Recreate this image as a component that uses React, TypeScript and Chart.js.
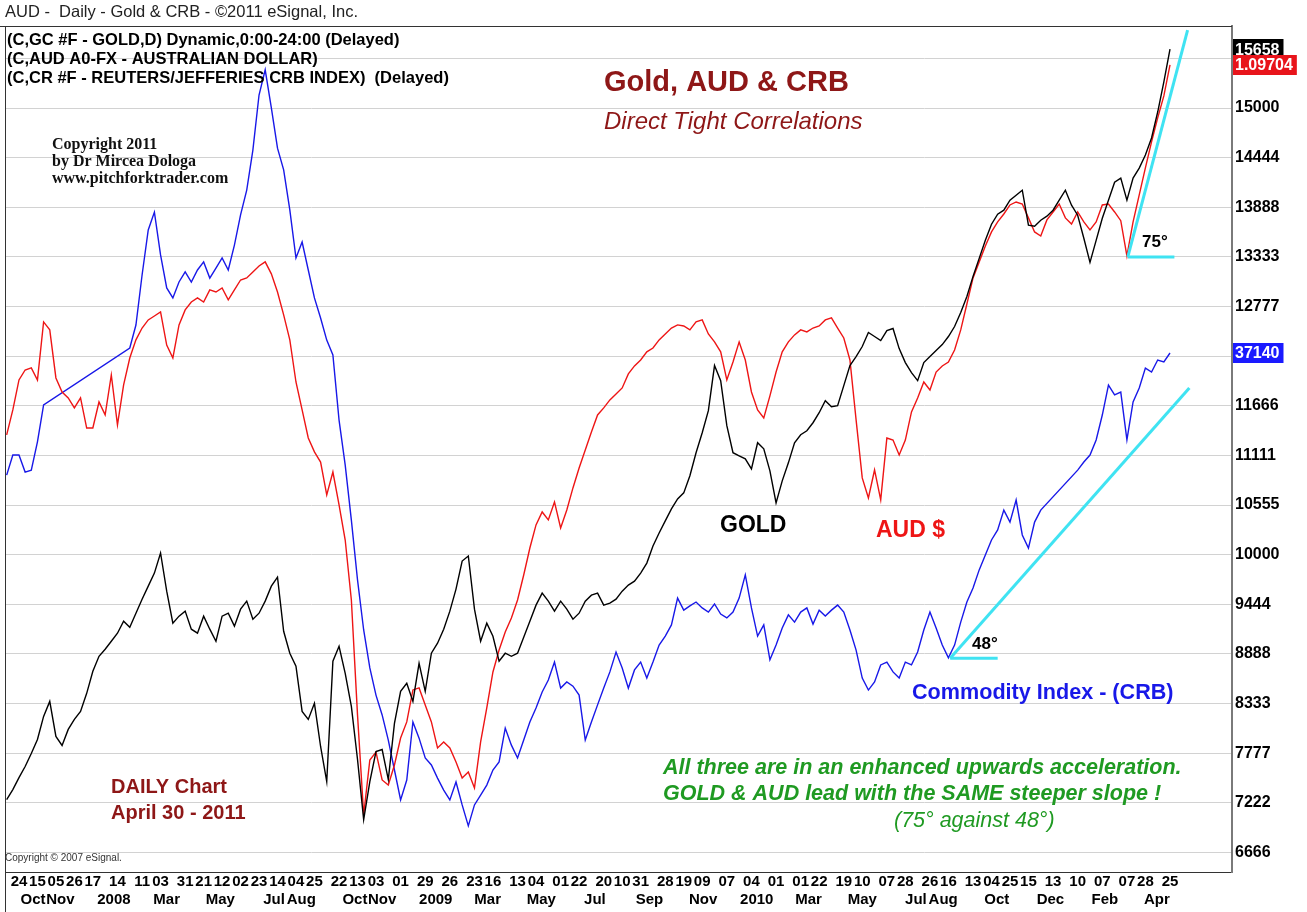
import React, { useEffect, useRef } from 'react';
import { Chart, registerables } from 'chart.js';

Chart.register(...registerables);

const SANS = "'Liberation Sans', Arial, Helvetica, sans-serif";
const SERIF = "'Liberation Serif', 'Times New Roman', serif";

// Weekly readings, first week = Monday 2007-09-10, one value every 7 days
const startDate = '2007-09-10';

// Gold (eSignal price x10)
const goldValues = [
  7258, 7371, 7505, 7629, 7775, 7932, 8190, 8358, 7965, 7864,
  8044, 8156, 8246, 8448, 8695, 8863, 8941, 9031, 9121, 9256,
  9188, 9345, 9502, 9648, 9794, 10019, 9592, 9233, 9312, 9368,
  9166, 9121, 9312, 9166, 9031, 9312, 9345, 9200, 9390, 9480,
  9278, 9345, 9480, 9648, 9749, 9143, 8897, 8751, 8246, 8156,
  8336, 7853, 7460, 8807, 8975, 8672, 8302, 7707, 7034, 7460,
  7797, 7819, 7483, 8111, 8470, 8560, 8358, 8784, 8470, 8897,
  9009, 9166, 9368, 9615, 9929, 9985, 9390, 9031, 9233, 9087,
  8807, 8897, 8863, 8897, 9076, 9256, 9435, 9570, 9480, 9368,
  9480, 9390, 9278, 9345, 9480, 9547, 9570, 9435, 9458, 9502,
  9592, 9660, 9704, 9794, 9906, 10097, 10243, 10378, 10512, 10624,
  10692, 10883, 11141, 11365, 11612, 12117, 11948, 11444, 11141, 11107,
  11073, 10961, 11253, 11185, 10939, 10580, 10826, 11028, 11253, 11343,
  11387, 11477, 11589, 11724, 11657, 11668, 11892, 12117, 12218, 12330,
  12487, 12442, 12397, 12509, 12532, 12307, 12150, 12038, 11948, 12150,
  12218, 12285, 12352, 12442, 12554, 12711, 12891, 13115, 13317, 13519,
  13699, 13811, 13856, 13968, 14024, 14080, 13688, 13676, 13744, 13789,
  13856, 13968, 14080, 13912, 13800, 13542, 13272, 13519, 13766, 13968,
  14170, 14215, 13968, 14215, 14327, 14473, 14664, 14955, 15292, 15658,
];

// Australian dollar
const audValues = [
  0.8599, 0.8759, 0.8951, 0.9015, 0.9028, 0.8951, 0.9323, 0.9272, 0.8964, 0.8874,
  0.8836, 0.8772, 0.8836, 0.8643, 0.8643, 0.8810, 0.8727, 0.8983, 0.8663, 0.8919,
  0.9092, 0.9208, 0.9284, 0.9336, 0.9361, 0.9387, 0.9175, 0.9092, 0.9304, 0.9400,
  0.9451, 0.9477, 0.9451, 0.9528, 0.9515, 0.9541, 0.9464, 0.9528, 0.9592, 0.9605,
  0.9643, 0.9682, 0.9708, 0.9631, 0.9515, 0.9368, 0.9208, 0.8938, 0.8759, 0.8579,
  0.8490, 0.8425, 0.8214, 0.8361, 0.8150, 0.7925, 0.7541, 0.6804, 0.6163, 0.6515,
  0.6566, 0.6387, 0.6355, 0.6483, 0.6656, 0.6759, 0.6964, 0.6977, 0.6868, 0.6759,
  0.6592, 0.6631, 0.6592, 0.6502, 0.6400, 0.6438, 0.6336, 0.6631, 0.6849, 0.7079,
  0.7220, 0.7336, 0.7425, 0.7541, 0.7701, 0.7874, 0.8022, 0.8105, 0.8054, 0.8169,
  0.8002, 0.8118, 0.8259, 0.8387, 0.8502, 0.8618, 0.8727, 0.8772, 0.8823, 0.8861,
  0.8900, 0.8990, 0.9041, 0.9079, 0.9131, 0.9156, 0.9208, 0.9246, 0.9284, 0.9304,
  0.9297, 0.9272, 0.9323, 0.9336, 0.9246, 0.9195, 0.9131, 0.8951, 0.9066, 0.9195,
  0.9079, 0.8874, 0.8759, 0.8708, 0.8849, 0.9002, 0.9131, 0.9195, 0.9240, 0.9272,
  0.9259, 0.9284, 0.9297, 0.9336, 0.9349, 0.9284, 0.9220, 0.9079, 0.8695, 0.8323,
  0.8195, 0.8374, 0.8182, 0.8579, 0.8566, 0.8470, 0.8566, 0.8746, 0.8836, 0.8938,
  0.8887, 0.9002, 0.9041, 0.9066, 0.9143, 0.9272, 0.9438, 0.9605, 0.9708, 0.9810,
  0.9900, 0.9964, 1.0015, 1.0073, 1.0092, 1.0079, 0.9990, 0.9900, 0.9874, 0.9977,
  1.0028, 1.0079, 0.9990, 0.9951, 1.0028, 0.9964, 0.9913, 0.9964, 1.0073, 1.0079,
  1.0028, 0.9972, 0.9746, 0.9964, 1.0137, 1.0310, 1.0477, 1.0631, 1.0772, 1.09704,
];

// Reuters/Jefferies CRB index (null = no quotes, joined by a straight segment)
const crbValues = [
  327.7, 334.9, 334.9, 328.8, 329.5, 339.6, 352.8, null, null, null,
  null, null, null, null, null, null, null, null, null, null,
  373.2, 381.4, 399.3, 415.4, 421.8, 406.5, 394.7, 391.1, 396.8, 400.4,
  396.8, 401.1, 404.0, 398.2, 401.8, 405.4, 401.1, 410.0, 420.8, 429.7,
  444.0, 463.7, 472.7, 459.1, 444.7, 436.9, 422.6, 405.4, 411.1, 401.1,
  391.1, 383.9, 376.0, 370.7, 347.4, 331.3, 311.6, 290.2, 272.3, 258.7,
  249.0, 241.9, 232.9, 222.2, 211.5, 218.6, 239.4, 233.6, 226.5, 224.0,
  219.3, 215.0, 211.5, 217.9, 209.7, 202.2, 209.7, 213.2, 216.8, 222.2,
  225.1, 237.2, 231.1, 226.5, 232.9, 239.4, 244.4, 250.1, 254.4, 260.8,
  251.5, 253.7, 252.2, 249.0, 232.9, 239.4, 245.5, 251.5, 257.3, 264.4,
  258.7, 251.5, 258.0, 260.8, 255.1, 260.8, 266.9, 270.1, 274.1, 283.7,
  279.4, 280.9, 282.3, 280.2, 278.7, 281.6, 278.0, 276.6, 278.7, 283.7,
  292.0, 280.2, 270.1, 274.1, 261.6, 266.9, 273.0, 277.7, 275.1, 278.7,
  280.2, 274.4, 279.4, 277.3, 279.4, 281.2, 278.7, 272.3, 265.1, 255.1,
  250.8, 253.7, 259.8, 260.8, 257.3, 255.1, 260.8, 259.8, 264.4, 272.3,
  278.7, 273.0, 266.9, 262.3, 266.9, 275.1, 282.3, 287.3, 293.8, 299.1,
  304.5, 308.1, 315.2, 310.9, 318.8, 306.3, 301.6, 310.9, 315.2, null,
  null, null, null, null, 329.5, 332.4, 334.9, 340.3, 349.2, 359.9,
  356.4, 357.4, 340.3, 353.9, 358.9, 366.0, 364.6, 368.9, 368.2, 371.4,
];

// Last-value tags on the price axis
const tagTexts = ['15658', '1.09704', '37140'];
const tagValues = [15658, 1.09704, 371.4];

// Price-axis gridline values (gold scale)
const goldTicks = [
  6666.67, 7222.22, 7777.78, 8333.33, 8888.89, 9444.44, 10000, 10555.56, 11111.11,
  11666.67, 12222.22, 12777.78, 13333.33, 13888.89, 14444.44, 15000, 15555.56,
];

// Date axis: day-of-month row and month/year row
const dayTickDates = [
  '2007-09-24', '2007-10-15', '2007-11-05', '2007-11-26', '2007-12-17',
  '2008-01-14', '2008-02-11', '2008-03-03', '2008-03-31', '2008-04-21', '2008-05-12', '2008-06-02',
  '2008-06-23', '2008-07-14', '2008-08-04', '2008-08-25', '2008-09-22', '2008-10-13', '2008-11-03',
  '2008-12-01', '2008-12-29',
  '2009-01-26', '2009-02-23', '2009-03-16', '2009-04-13', '2009-05-04', '2009-06-01', '2009-06-22',
  '2009-07-20', '2009-08-10', '2009-08-31', '2009-09-28', '2009-10-19', '2009-11-09', '2009-12-07',
  '2010-01-04', '2010-02-01', '2010-03-01', '2010-03-22', '2010-04-19', '2010-05-10', '2010-06-07',
  '2010-06-28', '2010-07-26', '2010-08-16', '2010-09-13', '2010-10-04', '2010-10-25', '2010-11-15',
  '2010-12-13',
  '2011-01-10', '2011-02-07', '2011-03-07', '2011-03-28', '2011-04-25',
];
const monthTickDates = [
  '2007-10-10', '2007-11-10', '2008-01-10', '2008-03-10', '2008-05-10', '2008-07-10', '2008-08-10',
  '2008-10-10', '2008-11-10', '2009-01-10', '2009-03-10', '2009-05-10', '2009-07-10', '2009-09-10',
  '2009-11-10', '2010-01-10', '2010-03-10', '2010-05-10', '2010-07-10', '2010-08-10', '2010-10-10',
  '2010-12-10', '2011-02-10', '2011-04-10',
];
const monthTickLabels = [
  'Oct', 'Nov', '2008', 'Mar', 'May', 'Jul', 'Aug', 'Oct', 'Nov', '2009', 'Mar', 'May', 'Jul', 'Sep',
  'Nov', '2010', 'Mar', 'May', 'Jul', 'Aug', 'Oct', 'Dec', 'Feb', 'Apr',
];

// Angle lines (gold-scale values)
const slope75Dates = ['2011-03-08', '2011-05-15'];
const slope75Values = [13333, 15873];
const base75Dates = ['2011-03-08', '2011-04-30'];
const base75Values = [13333, 13333];
const slope48Dates = ['2010-08-18', '2011-05-17'];
const slope48Values = [8840, 11866];
const base48Dates = ['2010-08-18', '2010-10-11'];
const base48Values = [8840, 8840];

const dayNum = (s: string) => {
  const [y, m, d] = s.split('-').map(Number);
  return Date.UTC(y, m - 1, d) / 86400000;
};
const X0 = dayNum(startDate);
const weekly = (vals: (number | null)[]) => vals.map((v, i) => ({ x: X0 + 7 * i, y: v }));
const pts = (dates: string[], vals: number[]) => dates.map((d, i) => ({ x: dayNum(d), y: vals[i] }));

const GOLD_C = '#000000';
const AUD_C = '#ee1515';
const CRB_C = '#1818e8';
const CYAN = '#3fe3f2';
const DARKRED = '#8e1717';
const GREEN = '#1f9a22';

function text(ctx: CanvasRenderingContext2D, s: string, x: number, y: number, font: string, color: string) {
  ctx.font = font;
  ctx.fillStyle = color;
  ctx.textAlign = 'left';
  ctx.textBaseline = 'alphabetic';
  ctx.fillText(s, x, y);
}

const decorPlugin = {
  id: 'decor',
  beforeDraw(chart: any) {
    const ctx = chart.ctx;
    ctx.save();
    ctx.fillStyle = '#ffffff';
    ctx.fillRect(0, 0, chart.width, chart.height);
    ctx.restore();
  },
  afterDraw(chart: any) {
    const ctx: CanvasRenderingContext2D = chart.ctx;
    const a = chart.chartArea;
    ctx.save();
    // frame
    ctx.strokeStyle = '#333';
    ctx.lineWidth = 1;
    ctx.beginPath();
    ctx.moveTo(a.left + 0.5, a.top);
    ctx.lineTo(a.left + 0.5, chart.height);
    ctx.moveTo(0, a.top + 0.5);
    ctx.lineTo(a.right, a.top + 0.5);
    ctx.stroke();

    // header & legend
    text(ctx, 'AUD -  Daily - Gold & CRB - \u00A92011 eSignal, Inc.', 5, 17, `16.5px ${SANS}`, '#222');
    text(ctx, '(C,GC #F - GOLD,D) Dynamic,0:00-24:00 (Delayed)', 7, 45, `bold 16.5px ${SANS}`, '#000');
    text(ctx, '(C,AUD A0-FX - AUSTRALIAN DOLLAR)', 7, 64, `bold 16.5px ${SANS}`, '#000');
    text(ctx, '(C,CR #F - REUTERS/JEFFERIES CRB INDEX)  (Delayed)', 7, 83, `bold 16.5px ${SANS}`, '#000');

    // titles
    text(ctx, 'Gold, AUD & CRB', 604, 91, `bold 29px ${SANS}`, DARKRED);
    text(ctx, 'Direct Tight Correlations', 604, 129, `italic 24px ${SANS}`, DARKRED);

    // copyright block
    text(ctx, 'Copyright 2011', 52, 149, `bold 16px ${SERIF}`, '#111');
    text(ctx, 'by Dr Mircea Dologa', 52, 166, `bold 16px ${SERIF}`, '#111');
    text(ctx, 'www.pitchforktrader.com', 52, 183, `bold 16px ${SERIF}`, '#111');

    // series labels
    text(ctx, 'GOLD', 720, 532, `bold 23px ${SANS}`, '#000');
    text(ctx, 'AUD $', 876, 537, `bold 23px ${SANS}`, AUD_C);
    text(ctx, 'Commodity Index - (CRB)', 912, 699, `bold 21.6px ${SANS}`, CRB_C);
    text(ctx, '75\u00B0', 1142, 247, `bold 17px ${SANS}`, '#000');
    text(ctx, '48\u00B0', 972, 649, `bold 17px ${SANS}`, '#000');

    text(ctx, 'DAILY Chart', 111, 793, `bold 20px ${SANS}`, DARKRED);
    text(ctx, 'April 30 - 2011', 111, 819, `bold 20px ${SANS}`, DARKRED);

    text(ctx, 'All three are in an enhanced upwards acceleration.', 663, 774, `italic bold 21.5px ${SANS}`, GREEN);
    text(ctx, 'GOLD & AUD lead with the SAME steeper slope !', 663, 800, `italic bold 21.5px ${SANS}`, GREEN);
    text(ctx, '(75\u00B0 against 48\u00B0)', 894, 827, `italic 21.5px ${SANS}`, GREEN);

    text(ctx, 'Copyright \u00A9 2007 eSignal.', 5, 861, `10px ${SANS}`, '#333');

    // last value tags
    const ys = [
      chart.scales.y.getPixelForValue(tagValues[0]),
      chart.scales.yA.getPixelForValue(tagValues[1]),
      chart.scales.yC.getPixelForValue(tagValues[2]),
    ];
    const cols = ['#000000', '#e8141b', '#1a1aff'];
    const order = [0, 2, 1];
    ctx.font = `bold 16px ${SANS}`;
    for (const k of order) {
      const w = ctx.measureText(tagTexts[k]).width + 6;
      ctx.fillStyle = cols[k];
      ctx.fillRect(a.right + 1, Math.round(ys[k] - 10), w, 20);
      ctx.fillStyle = '#fff';
      ctx.textBaseline = 'middle';
      ctx.fillText(tagTexts[k], a.right + 3, ys[k] + 1);
    }
    ctx.restore();
  },
};

export default function App() {
  const ref = useRef<HTMLCanvasElement | null>(null);
  useEffect(() => {
    if (!ref.current) return;
    const chart = new Chart(ref.current, {
      type: 'line',
      data: {
        datasets: [
          { data: pts(slope75Dates, slope75Values), yAxisID: 'y', borderColor: CYAN, borderWidth: 3 },
          { data: pts(base75Dates, base75Values), yAxisID: 'y', borderColor: CYAN, borderWidth: 3 },
          { data: pts(slope48Dates, slope48Values), yAxisID: 'y', borderColor: CYAN, borderWidth: 3 },
          { data: pts(base48Dates, base48Values), yAxisID: 'y', borderColor: CYAN, borderWidth: 3 },
          { label: 'Gold', data: weekly(goldValues), yAxisID: 'y', borderColor: GOLD_C, borderWidth: 1.4 },
          { label: 'AUD', data: weekly(audValues), yAxisID: 'yA', borderColor: AUD_C, borderWidth: 1.4 },
          { label: 'CRB', data: weekly(crbValues), yAxisID: 'yC', borderColor: CRB_C, borderWidth: 1.4, spanGaps: true },
        ] as any,
      },
      options: {
        animation: false,
        responsive: false,
        maintainAspectRatio: false,
        devicePixelRatio: 1,
        layout: { padding: { left: 5, top: 26, right: 0, bottom: 0 } },
        elements: { point: { radius: 0 }, line: { tension: 0, fill: false } },
        plugins: { legend: { display: false }, tooltip: { enabled: false } },
        scales: {
          x: {
            type: 'linear',
            position: 'bottom',
            weight: 0,
            min: X0 - 1.9,
            max: X0 + 1393.5,
            grid: { display: false, drawTicks: false },
            border: { display: true, color: '#333', width: 1 },
            ticks: {
              autoSkip: false, maxRotation: 0, minRotation: 0, padding: 1, color: '#000',
              font: { family: SANS, size: 15, weight: 'bold' },
              callback: (_v: any, i: number) => dayTickDates[i] ? dayTickDates[i].slice(8, 10) : '',
            },
            afterBuildTicks: (s: any) => { s.ticks = dayTickDates.map((d) => ({ value: dayNum(d) })); },
            afterFit: (s: any) => { s.height = 19; },
          },
          x2: {
            type: 'linear',
            position: 'bottom',
            weight: 1,
            min: X0 - 1.9,
            max: X0 + 1393.5,
            grid: { display: false, drawTicks: false },
            border: { display: false },
            ticks: {
              autoSkip: false, maxRotation: 0, minRotation: 0, padding: 0, color: '#000',
              font: { family: SANS, size: 15, weight: 'bold' },
              callback: (_v: any, i: number) => monthTickLabels[i] ?? '',
            },
            afterBuildTicks: (s: any) => { s.ticks = monthTickDates.map((d) => ({ value: dayNum(d) })); },
            afterFit: (s: any) => { s.height = 21; },
          },
          y: {
            type: 'linear',
            position: 'right',
            min: 6448,
            max: 15918,
            grid: { color: '#d2d2d2', lineWidth: 1, drawTicks: false },
            border: { display: true, color: '#7a7a7a', width: 2 },
            ticks: {
              autoSkip: false, padding: 3, color: '#000',
              font: { family: SANS, size: 16, weight: 'bold' },
              callback: (v: any) => String(Math.floor(Number(v) + 1e-6)),
            },
            afterBuildTicks: (s: any) => { s.ticks = goldTicks.map((v) => ({ value: v })); },
            afterFit: (s: any) => { s.width = 75; },
          },
          yA: { type: 'linear', display: false, min: 0.5797, max: 1.122 },
          yC: { type: 'linear', display: false, min: 185.7, max: 488.4 },
        },
      } as any,
      plugins: [decorPlugin],
    });
    return () => chart.destroy();
  }, []);

  return (
    <div style={{ position: 'fixed', left: 0, top: 0, width: 1307, height: 912, background: '#fff' }}>
      <canvas ref={ref} width={1307} height={912} style={{ display: 'block', width: 1307, height: 912 }} />
    </div>
  );
}
